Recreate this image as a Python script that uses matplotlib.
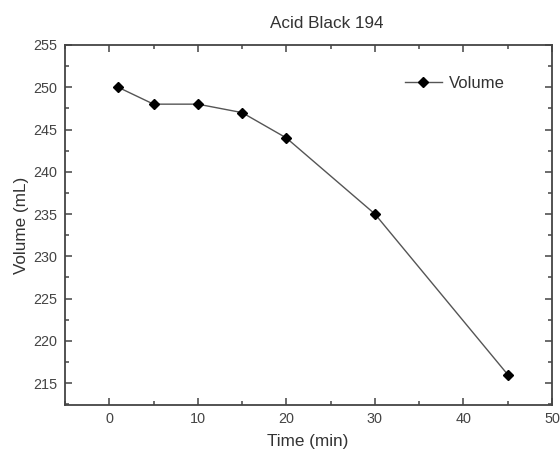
import matplotlib
matplotlib.use("Agg")
import matplotlib.pyplot as plt
from matplotlib.ticker import MultipleLocator

time_min = [1, 5, 10, 15, 20, 30, 45]
volume_ml = [250, 248, 248, 247, 244, 235, 216]

plt.rcParams['font.family'] = ['Liberation Sans', 'DejaVu Sans']
W, H = 560, 451
fig = plt.figure(figsize=(W/100, H/100), dpi=100)
L, R, T, B = 65, 552, 45, 405
ax = fig.add_axes([L/W, 1-B/H, (R-L)/W, (B-T)/H])

ax.plot(time_min, volume_ml, color='#555555', lw=1.0, marker='D', ms=5,
        markerfacecolor='black', markeredgecolor='black', label='Volume')

ax.set_xlim(-5, 50)
ax.set_ylim(212.4, 255)
ax.xaxis.set_major_locator(MultipleLocator(10))
ax.xaxis.set_minor_locator(MultipleLocator(5))
ax.yaxis.set_major_locator(MultipleLocator(5))
ax.yaxis.set_minor_locator(MultipleLocator(2.5))
ax.tick_params(which='both', direction='in', top=True, right=True,
               labeltop=False, labelright=False, colors='#444444',
               labelsize=10.4, width=1.1)
ax.tick_params(which='major', length=5)
ax.tick_params(which='minor', length=3)
ax.tick_params(axis='y', pad=5.8)
ax.tick_params(axis='x', pad=5.0)
for s in ax.spines.values():
    s.set_linewidth(1.3)
    s.set_color('#444444')

ax.set_xlabel('Time (min)', fontsize=12.3, color='#333333')
ax.set_ylabel('Volume (mL)', fontsize=12.3, color='#333333')
ax.xaxis.set_label_coords((308 - L)/(R-L), (B-434)/(B-T))
ax.yaxis.set_label_coords((29 - L)/(R-L), 0.5)
fig.text(327/W, 1-28.5/H, 'Acid Black 194', fontsize=12.3, color='#333333',
         ha='center', va='baseline')

leg = ax.legend(loc='center left', bbox_to_anchor=(405/W, 1-83/H),
                bbox_transform=fig.transFigure, frameon=False,
                fontsize=12, handlelength=2.2, handletextpad=0.42,
                borderpad=0, borderaxespad=0)
for t in leg.get_texts():
    t.set_color('#333333')

fig.savefig('out.png', dpi=100)
